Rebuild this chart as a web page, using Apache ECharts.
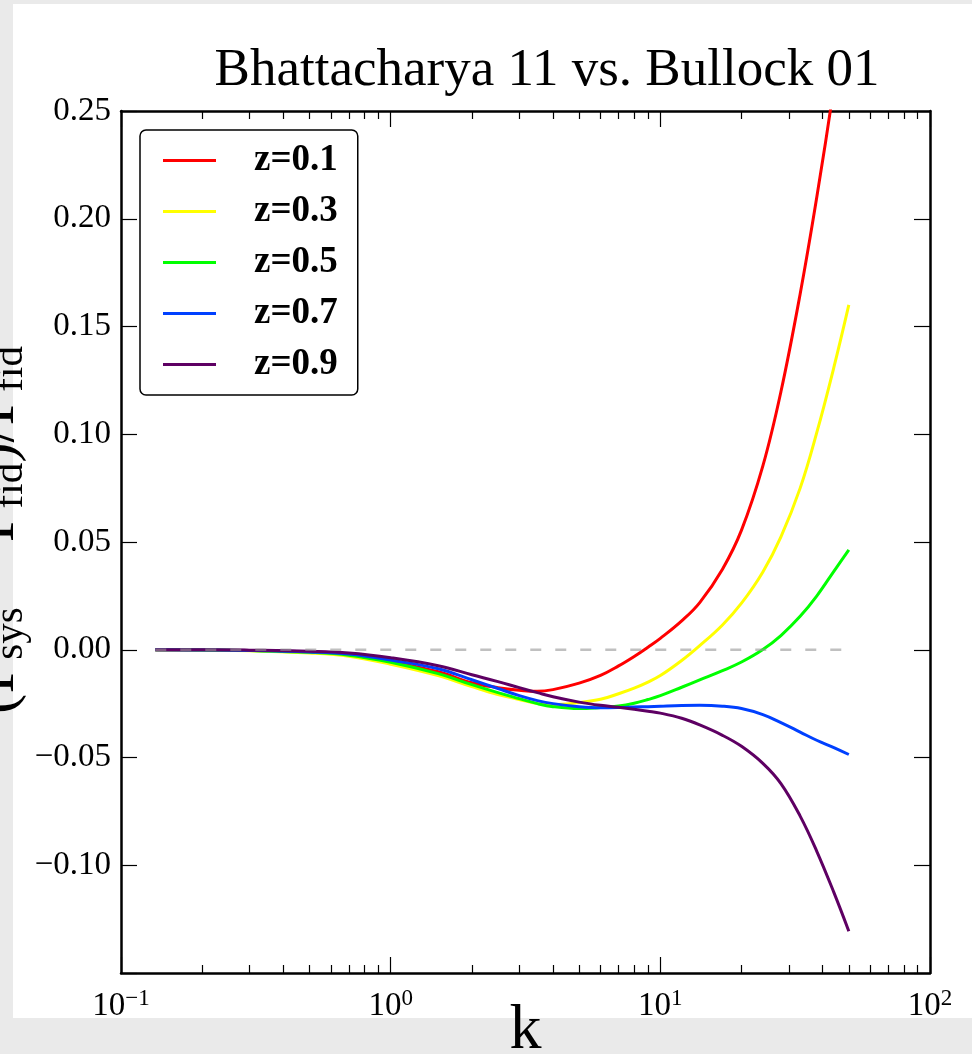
<!DOCTYPE html>
<html>
<head>
<meta charset="utf-8">
<script src="https://cdn.jsdelivr.net/npm/echarts@6/dist/echarts.min.js"></script>
<style>
  html, body { margin: 0; padding: 0; background: #eaeaea; }
  #paper { position: absolute; left: 13px; top: 4px; width: 959px; height: 1014px; background: #fff; }
  #chart { position: absolute; left: 0; top: 0; width: 972px; height: 1054px; }
</style>
</head>
<body>
<div id="paper"></div>
<div id="chart"></div>
<script>
// k values where the curves were read
const kValues = [0.134, 0.2, 0.3, 0.5, 0.7, 1.0, 1.5, 2.0, 2.5, 3.0, 3.5, 4.0, 5.0, 6.0, 7.0, 8.0, 9.0, 10, 12, 14, 17, 20, 24, 28, 33, 38, 44, 50]

// (P_sys - P_fid)/P_fid per redshift
const z01 = [0, -0.0001, -0.0003, -0.001, -0.002, -0.0055, -0.0102, -0.0153, -0.0176, -0.0188, -0.0193, -0.0185, -0.0155, -0.0119, -0.0075, -0.0031, 0.0012, 0.0053, 0.0134, 0.0219, 0.0374, 0.0555, 0.0853, 0.1197, 0.1651, 0.2097, 0.261, 0.3105]
const z03 = [0, -0.0002, -0.0005, -0.0015, -0.003, -0.0067, -0.012, -0.0171, -0.0208, -0.0231, -0.025, -0.0255, -0.0245, -0.0230, -0.0204, -0.0178, -0.0150, -0.0120, -0.0050, 0.0019, 0.0115, 0.0216, 0.0361, 0.0524, 0.0750, 0.1006, 0.1310, 0.160]
const z05 = [0, -0.0001, -0.0004, -0.0012, -0.0025, -0.0058, -0.0111, -0.0162, -0.0199, -0.0227, -0.0250, -0.0264, -0.0273, -0.0268, -0.0261, -0.0248, -0.0231, -0.0213, -0.0174, -0.0140, -0.0097, -0.0057, 0.0001, 0.0066, 0.0155, 0.0249, 0.0364, 0.0463]
const z07 = [0, -0.0001, -0.0003, -0.001, -0.002, -0.0048, -0.0088, -0.0139, -0.018, -0.0213, -0.0236, -0.025, -0.0264, -0.0269, -0.0268, -0.0266, -0.0264, -0.0262, -0.0259, -0.0258, -0.0262, -0.0273, -0.0301, -0.0338, -0.0382, -0.042, -0.0454, -0.0486]
const z09 = [0, 0, -0.0002, -0.0007, -0.0015, -0.0037, -0.0074, -0.0116, -0.0148, -0.0176, -0.0199, -0.0218, -0.0243, -0.0258, -0.0267, -0.0276, -0.0285, -0.0294, -0.0318, -0.0349, -0.0397, -0.0448, -0.0527, -0.0621, -0.0772, -0.0934, -0.1126, -0.1306]
const zero = kValues.map(() => 0)

const seriesNames = ['z=0.1', 'z=0.3', 'z=0.5', 'z=0.7', 'z=0.9']
const seriesColors = ['#ff0000', '#ffff00', '#00ff00', '#0040ff', '#5e0063']
const seriesValues = [z01, z03, z05, z07, z09]

const majorK = [0.1, 1, 10, 100]
const minorK = [0.2, 0.3, 0.4, 0.5, 0.6, 0.7, 0.8, 0.9, 2, 3, 4, 5, 6, 7, 8, 9, 20, 30, 40, 50, 60, 70, 80, 90]

const serif = '"Liberation Serif", "DejaVu Serif", serif'

function pairs(vals) {
    return kValues.map((k, i) => [k, vals[i]])
}

function logLabel(v) {
    const e = Math.round(Math.log10(v))
    return '{b|10}{s|' + (e < 0 ? '\u2212' + (-e) : e) + '}'
}

function xAxisOf(position, ticks, len, withLine, withLabel) {
    return {
        type: 'log',
        logBase: 10,
        position: position,
        min: 0.1,
        max: 100,
        axisLine: { show: withLine, onZero: false, lineStyle: { color: '#000', width: 2.5 } },
        axisTick: { show: true, inside: true, length: len, customValues: ticks, lineStyle: { color: '#000', width: 1.2 } },
        axisLabel: withLabel ? {
            show: true,
            margin: 14,
            customValues: majorK,
            formatter: logLabel,
            rich: {
                b: { fontFamily: serif, fontSize: 33, color: '#000', lineHeight: 36, verticalAlign: 'bottom' },
                s: { fontFamily: serif, fontSize: 23, color: '#000', lineHeight: 24, verticalAlign: 'top' }
            }
        } : { show: false },
        splitLine: { show: false }
    }
}

function yAxisOf(position, withLabel) {
    return {
        type: 'value',
        position: position,
        min: -0.15,
        max: 0.25,
        interval: 0.05,
        axisLine: { show: true, onZero: false, lineStyle: { color: '#000', width: 2.5 } },
        axisTick: { show: true, inside: true, length: 16, lineStyle: { color: '#000', width: 1.2 } },
        axisLabel: {
            show: withLabel,
            margin: 10,
            fontFamily: serif,
            fontSize: 33,
            color: '#000',
            formatter: v => {
                if (v < -0.149) return ''
                const s = Math.abs(v).toFixed(2)
                return v < -1e-9 ? '\u2212' + s : s
            }
        },
        splitLine: { show: false }
    }
}

const chart = echarts.init(document.getElementById('chart'))

const series = seriesValues.map((vals, i) => ({
    name: seriesNames[i],
    type: 'line',
    data: pairs(vals),
    smooth: 0.4,
    symbol: 'none',
    clip: true,
    lineStyle: { color: seriesColors[i], width: 3 },
    itemStyle: { color: seriesColors[i] },
    z: 3 + i
}))

// fiducial zero line
series.push({
    name: 'fid',
    type: 'line',
    data: pairs(zero),
    symbol: 'none',
    lineStyle: { color: 'rgba(150,150,150,0.6)', width: 2.5, type: [11, 14] },
    z: 10
})

const option = {
    animation: false,
    title: {
        text: 'Bhattacharya 11 vs. Bullock 01',
        left: 542,
        top: 40,
        textAlign: 'center',
        textStyle: { fontFamily: serif, fontSize: 53, fontWeight: 'normal', color: '#000' }
    },
    grid: { left: 121, right: 42, top: 111, bottom: 81, containLabel: false, outerBoundsMode: 'none' },
    legend: {
        data: seriesNames,
        orient: 'vertical',
        left: 140,
        top: 130,
        padding: [12, 20, 12, 23],
        icon: 'rect',
        itemWidth: 53,
        itemHeight: 3,
        itemGap: 14,
        backgroundColor: '#fff',
        borderColor: '#000',
        borderWidth: 1.5,
        borderRadius: 6,
        textStyle: { fontFamily: serif, fontSize: 37, fontWeight: 'bold', color: '#000', lineHeight: 30, padding: [0, 0, 0, 33] }
    },
    xAxis: [
        Object.assign(xAxisOf('bottom', majorK, 16, true, true), {
            name: 'k',
            nameLocation: 'middle',
            nameGap: 26,
            nameMoveOverlap: false,
            nameTextStyle: { fontFamily: serif, fontSize: 64, color: '#000', verticalAlign: 'top' }
        }),
        xAxisOf('bottom', minorK, 8, false, false),
        xAxisOf('top', majorK, 16, true, false),
        xAxisOf('top', minorK, 8, false, false)
    ],
    yAxis: [yAxisOf('left', true), yAxisOf('right', false)],
    graphic: [{
        type: 'text',
        x: -3,
        y: 530,
        rotation: Math.PI / 2,
        style: {
            text: '(P{sub|sys} \u2212 P{sub|fid})/P{sub|fid}',
            fontFamily: serif,
            fontSize: 61,
            fill: '#000',
            align: 'center',
            verticalAlign: 'middle',
            rich: {
                sub: { fontFamily: serif, fontSize: 41, padding: [28, 0, 0, 0], verticalAlign: 'bottom' }
            }
        }
    }],
    series: series
}

chart.setOption(option)
</script>
</body>
</html>
